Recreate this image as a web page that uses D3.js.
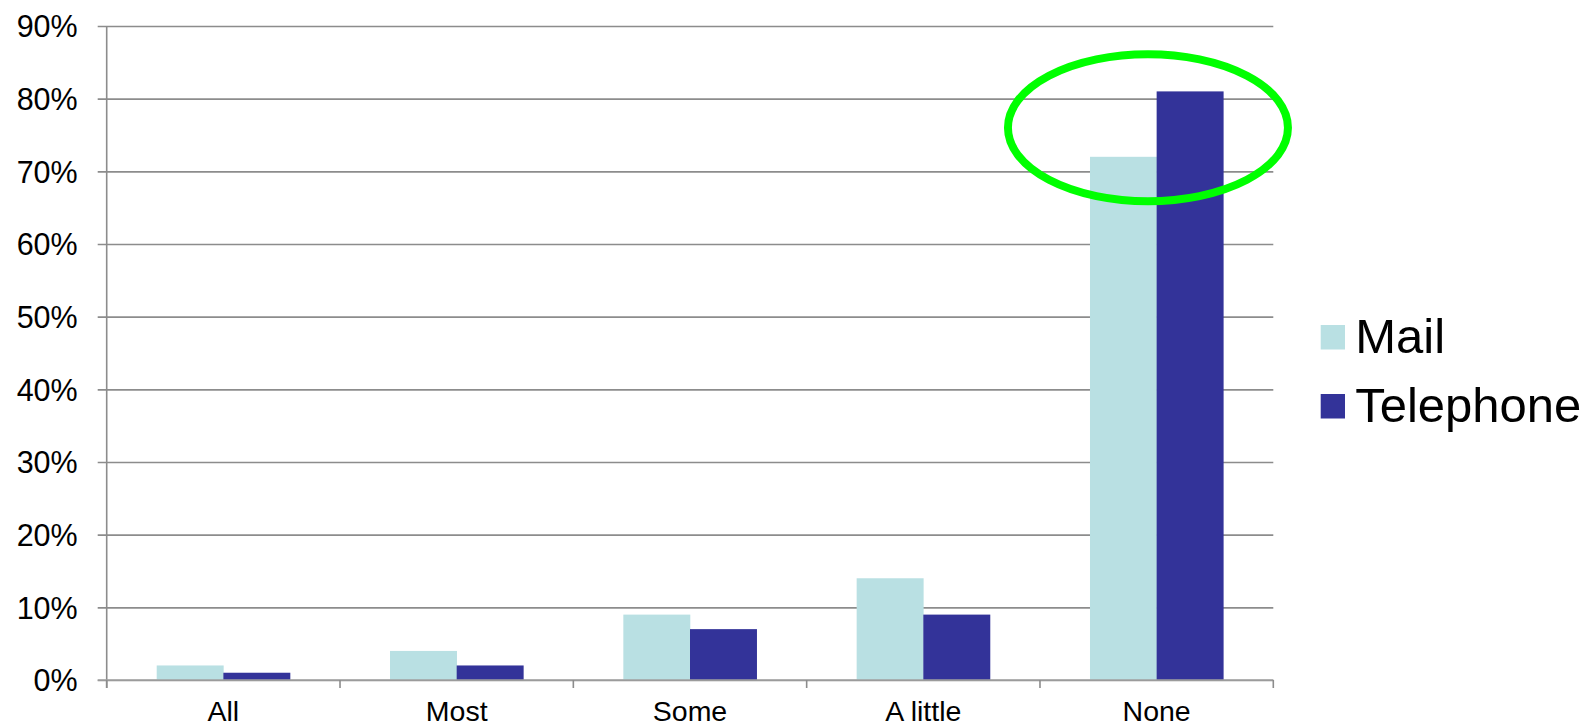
<!DOCTYPE html>
<html>
<head>
<meta charset="utf-8">
<script src="https://cdn.jsdelivr.net/npm/d3@7"></script>
<style>
  html, body { margin: 0; padding: 0; background: #fff; }
  svg { display: block; font-family: "Liberation Sans", Arial, sans-serif; }
</style>
</head>
<body>
<svg id="chart" width="1587" height="727"></svg>
<script>
// Share of respondents by answer, per survey mode
const categories = ["All", "Most", "Some", "A little", "None"];
const seriesNames = ["Mail", "Telephone"];
const mailValues = [2, 4, 9, 14, 72];
const telephoneValues = [1, 2, 7, 9, 81];
const yTicks = [0, 10, 20, 30, 40, 50, 60, 70, 80, 90];
const seriesColors = ["#B9E0E3", "#333399"];

const svg = d3.select("#chart");
const plot = { left: 106.7, right: 1273.3, top: 26, bottom: 680 };

const x = d3.scaleBand().domain(categories).range([plot.left, plot.right]).padding(0);
const bw = x.bandwidth();
// Excel-style gap width of 150%: bars take 2/7 of the band each
const xSeries = d3.scaleBand().domain(seriesNames).range([bw * 1.5 / 7, bw * 5.5 / 7]).padding(0);
const y = d3.scaleLinear().domain([0, 90]).range([plot.bottom, plot.top]);

// Horizontal gridlines with outward tick stubs
const yAxis = d3.axisLeft(y)
  .tickValues(yTicks)
  .tickFormat(d => d + "%")
  .tickSize(-(plot.right - plot.left))
  .tickPadding(0);

const gy = svg.append("g").attr("transform", `translate(${plot.left},0)`).call(yAxis);
gy.select(".domain").remove();
gy.selectAll(".tick line")
  .attr("x1", -9)
  .attr("stroke", "#8c8c8c")
  .attr("stroke-width", 1.6);
gy.selectAll(".tick text")
  .attr("x", -29)
  .attr("dy", "0.36em")
  .attr("fill", "#000")
  .style("font-size", "30.5px");

// Bars
const rows = categories.map((c, i) => ({ cat: c, vals: [mailValues[i], telephoneValues[i]] }));
const groups = svg.append("g").selectAll("g")
  .data(rows).join("g")
  .attr("transform", d => `translate(${x(d.cat)},0)`);
groups.selectAll("rect")
  .data(d => d.vals.map((v, j) => ({ name: seriesNames[j], v, j })))
  .join("rect")
  .attr("x", d => xSeries(d.name))
  .attr("width", xSeries.bandwidth() + 0.3)
  .attr("y", d => y(d.v))
  .attr("height", d => y(0) - y(d.v))
  .attr("fill", d => seriesColors[d.j]);

// Value axis line
svg.append("line")
  .attr("x1", plot.left).attr("x2", plot.left)
  .attr("y1", plot.top).attr("y2", plot.bottom + 8)
  .attr("stroke", "#8c8c8c").attr("stroke-width", 1.6);

// Category axis with ticks between categories
svg.append("line")
  .attr("x1", plot.left - 9).attr("x2", plot.right)
  .attr("y1", plot.bottom).attr("y2", plot.bottom)
  .attr("stroke", "#a0a0a0").attr("stroke-width", 1.6);
const boundaries = categories.map(c => x(c)).concat([plot.right]);
svg.append("g").selectAll("line")
  .data(boundaries).join("line")
  .attr("x1", d => d).attr("x2", d => d)
  .attr("y1", plot.bottom).attr("y2", plot.bottom + 8)
  .attr("stroke", "#8c8c8c").attr("stroke-width", 1.6);
svg.append("g").selectAll("text")
  .data(categories).join("text")
  .attr("x", d => x(d) + bw / 2)
  .attr("y", 720.8)
  .attr("text-anchor", "middle")
  .attr("fill", "#000")
  .style("font-size", "28.5px")
  .text(d => d);

// Highlight ring around the "None" bars
svg.append("ellipse")
  .attr("cx", x("None") + bw * 0.4628)
  .attr("cy", y(76))
  .attr("rx", 140)
  .attr("ry", 73.5)
  .attr("fill", "none")
  .attr("stroke", "#00FF00")
  .attr("stroke-width", 8);

// Legend
const legend = svg.append("g").attr("transform", "translate(1320.7,325)");
seriesNames.forEach((name, i) => {
  const g = legend.append("g").attr("transform", `translate(0,${i * 69})`);
  g.append("rect").attr("width", 24.3).attr("height", 24.5).attr("fill", seriesColors[i]);
  g.append("text")
    .attr("x", 34.5).attr("y", 28)
    .attr("fill", "#000")
    .style("font-size", "49px")
    .text(name);
});
</script>
</body>
</html>
